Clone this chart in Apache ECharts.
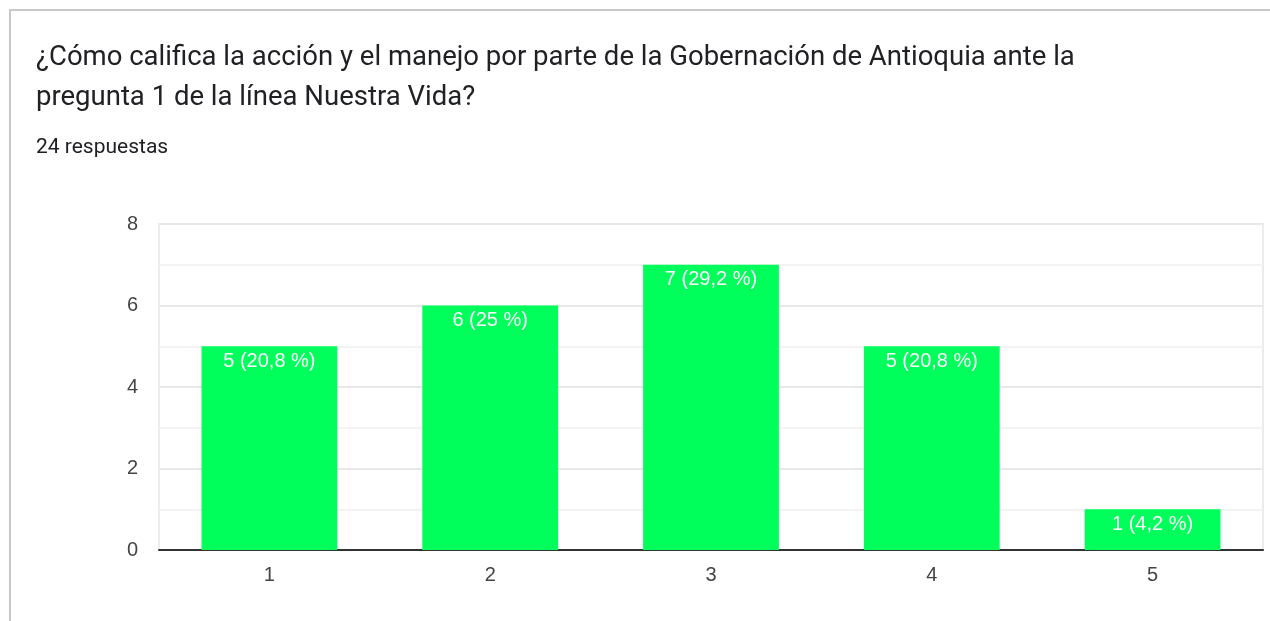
<!DOCTYPE html>
<html>
<head>
<meta charset="utf-8">
<script src="https://cdn.jsdelivr.net/npm/echarts@6/dist/echarts.min.js"></script>
<style>
html,body{margin:0;padding:0;background:#fff;width:1270px;height:621px;overflow:hidden;}
#card{position:absolute;left:9px;top:9px;width:1300px;height:700px;border-left:2px solid #c8c8c8;border-top:2px solid #c8c8c8;box-sizing:border-box;}
#chart{position:absolute;left:0;top:0;width:1270px;height:621px;}
</style>
</head>
<body>
<div id="card"></div>
<div id="chart"></div>
<script>
const titleText = "¿Cómo califica la acción y el manejo por parte de la Gobernación de Antioquia ante la\npregunta 1 de la línea Nuestra Vida?";
const subtitleText = "24 respuestas";
const categories = ["1", "2", "3", "4", "5"];
const counts = [5, 6, 7, 5, 1];
const percents = ["20,8", "25", "29,2", "20,8", "4,2"];
const yTicks = [0, 2, 4, 6, 8];

const chart = echarts.init(document.getElementById('chart'));
chart.setOption({
  animation: false,
  title: [{
    text: titleText,
    left: 36, top: 38, padding: 0,
    textStyle: {fontFamily: 'Roboto', fontSize: 27.5, fontWeight: 'normal', color: '#202124', lineHeight: 40}
  }, {
    text: subtitleText,
    left: 36, top: 137, padding: 0,
    textStyle: {fontFamily: 'Roboto', fontSize: 21, fontWeight: 'normal', color: '#202124'}
  }],
  grid: {left: 159, right: 7, top: 224, bottom: 71, show: true, borderColor: '#ececec', borderWidth: 2, backgroundColor: 'transparent'},
  xAxis: {
    type: 'category', data: categories,
    axisLine: {lineStyle: {color: '#333', width: 2}},
    axisTick: {show: false},
    axisLabel: {fontFamily: 'Liberation Sans', fontSize: 20, color: '#444', margin: 15}
  },
  yAxis: {
    type: 'value', min: yTicks[0], max: yTicks[yTicks.length - 1], interval: 2,
    axisLine: {show: false}, axisTick: {show: false},
    axisLabel: {fontFamily: 'Liberation Sans', fontSize: 20, color: '#444', margin: 21},
    splitLine: {lineStyle: {color: '#e8e8e8', width: 2}},
    minorTick: {show: false, splitNumber: 2},
    minorSplitLine: {show: true, lineStyle: {color: '#f3f3f3', width: 2}}
  },
  series: [{
    type: 'bar', data: counts, barWidth: '61.5%',
    itemStyle: {color: '#00ff5a'},
    label: {
      show: true, position: 'insideTop', distance: 5,
      fontFamily: 'Liberation Sans', fontSize: 20, color: '#fff',
      formatter: p => p.value + ' (' + percents[p.dataIndex] + ' %)'
    }
  }]
});
</script>
</body>
</html>
